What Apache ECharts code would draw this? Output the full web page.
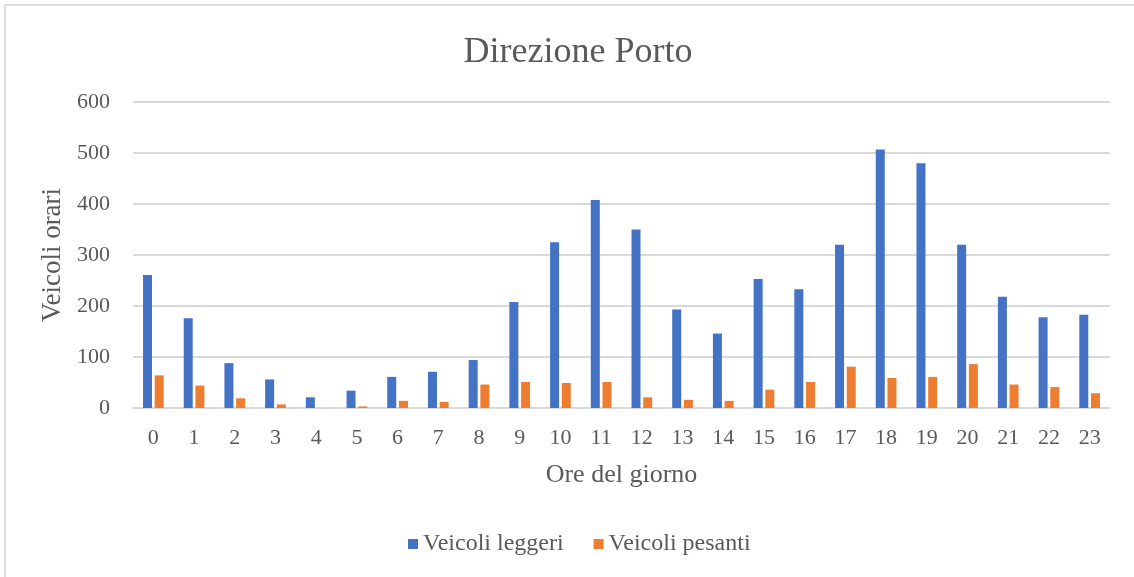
<!DOCTYPE html>
<html>
<head>
<meta charset="utf-8">
<script src="https://cdn.jsdelivr.net/npm/echarts@6/dist/echarts.min.js"></script>
<style>
  html, body { margin: 0; padding: 0; background: #fff; overflow: hidden; }
  #frame { position: absolute; left: 4px; top: 4px; width: 1200px; height: 700px; border: 2px solid #dcdcdc; box-sizing: border-box; }
  #chart { position: absolute; left: 0; top: 0; width: 1134px; height: 577px; }
</style>
</head>
<body>
<div id="frame"></div>
<div id="chart"></div>
<script>
// ore del giorno
const hours = ['0','1','2','3','4','5','6','7','8','9','10','11','12','13','14','15','16','17','18','19','20','21','22','23'];
// veicoli orari
const leggeri = [261, 176, 88, 56, 21, 34, 61, 71, 94, 208, 325, 408, 350, 193, 146, 253, 233, 320, 507, 480, 320, 218, 178, 183];
const pesanti = [64, 44, 19, 7, 0, 3, 14, 12, 46, 51, 49, 51, 21, 16, 14, 36, 51, 81, 59, 61, 86, 46, 41, 29];

const chart = echarts.init(document.getElementById('chart'));
const serif = '"Liberation Serif", "DejaVu Serif", serif';
const textGray = '#595959';

const option = {
  animation: false,
  title: {
    text: 'Direzione Porto',
    left: 573,
    textAlign: 'center',
    top: 30,
    textStyle: { fontFamily: serif, fontSize: 36, fontWeight: 'normal', color: textGray }
  },
  legend: {
    data: ['Veicoli leggeri', 'Veicoli pesanti'],
    bottom: 16,
    left: 403,
    itemWidth: 10,
    itemHeight: 10,
    itemGap: 30,
    itemTextGap: 6,
    icon: 'rect',
    textStyle: { fontFamily: serif, fontSize: 24, color: textGray }
  },
  grid: { left: 133, right: 24, top: 102, bottom: 169 },
  xAxis: {
    type: 'category',
    data: hours,
    name: 'Ore del giorno',
    nameLocation: 'middle',
    nameGap: 54,
    nameTextStyle: { fontFamily: serif, fontSize: 26, color: textGray },
    axisLine: { lineStyle: { color: '#d9d9d9', width: 2 } },
    axisTick: { show: false },
    axisLabel: { margin: 19, fontFamily: serif, fontSize: 22, color: textGray }
  },
  yAxis: {
    type: 'value',
    min: 0,
    max: 600,
    interval: 100,
    name: 'Veicoli orari',
    nameLocation: 'middle',
    nameGap: 66,
    nameTextStyle: { fontFamily: serif, fontSize: 27, color: textGray },
    axisLine: { show: false },
    axisTick: { show: false },
    axisLabel: { margin: 23, fontFamily: serif, fontSize: 22, color: textGray },
    splitLine: { lineStyle: { color: '#d9d9d9', width: 2 } }
  },
  series: [
    {
      name: 'Veicoli leggeri',
      type: 'bar',
      data: leggeri,
      barWidth: 9,
      barGap: '30%',
      itemStyle: { color: '#4472C4' }
    },
    {
      name: 'Veicoli pesanti',
      type: 'bar',
      data: pesanti,
      barWidth: 9,
      barGap: '30%',
      itemStyle: { color: '#ED7D31' }
    }
  ]
};

chart.setOption(option);
</script>
</body>
</html>
